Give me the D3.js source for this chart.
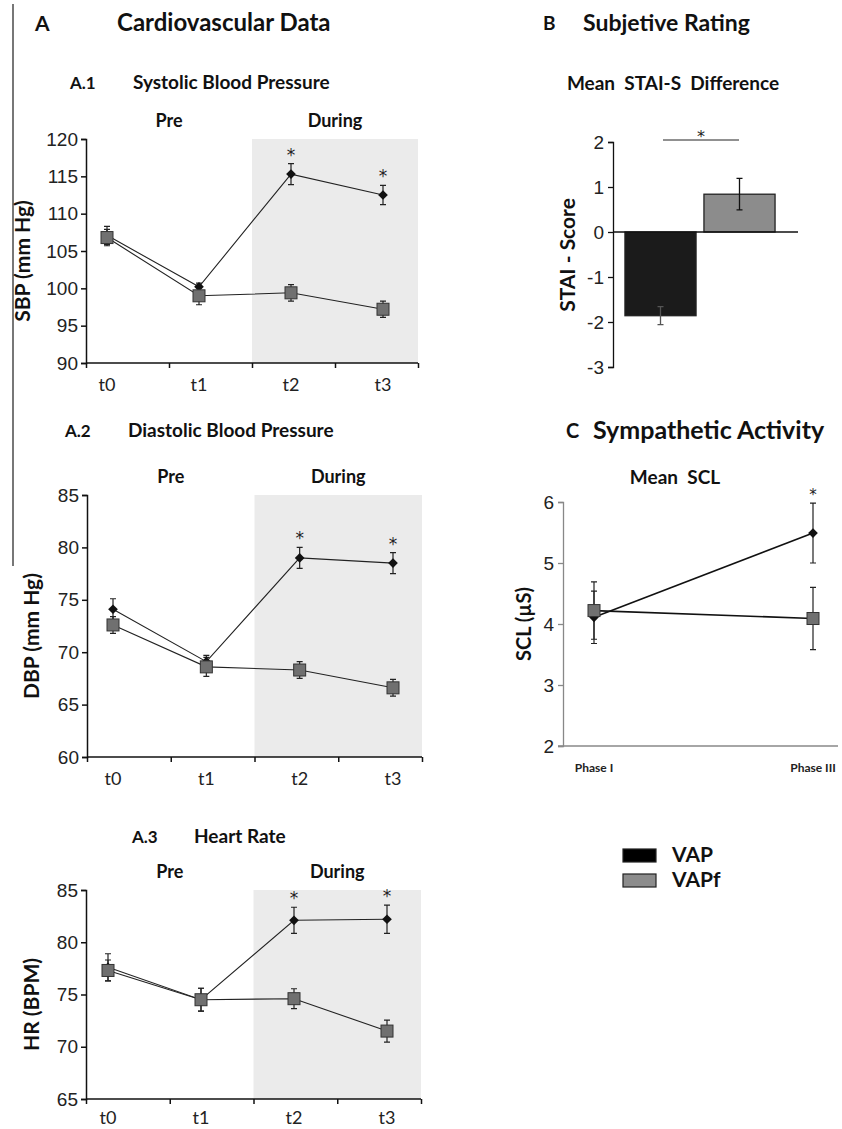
<!DOCTYPE html>
<html>
<head>
<meta charset="utf-8">
<script src="https://cdn.jsdelivr.net/npm/d3@7"></script>
<style>
  body { margin: 0; background: #fff; }
  svg { font-family: Lato, "Open Sans", sans-serif; }
  text { white-space: pre; }
</style>
</head>
<body>
<div id="chart"></div>
<script>
// time points for the cardiovascular panels
const times = ["t0", "t1", "t2", "t3"];

// A.1 systolic blood pressure (mm Hg)
const sbpVAP = [107.1, 100.2, 115.3, 112.5];
const sbpVAPErr = [1.2, 0.5, 1.4, 1.3];
const sbpVAPf = [106.8, 99.0, 99.4, 97.2];
const sbpVAPfErr = [1.1, 1.2, 1.1, 1.1];
const sbpTicks = [90, 95, 100, 105, 110, 115, 120];

// A.2 diastolic blood pressure (mm Hg)
const dbpVAP = [74.1, 69.1, 79.0, 78.5];
const dbpVAPErr = [1.0, 0.6, 1.0, 1.0];
const dbpVAPf = [72.6, 68.6, 68.3, 66.6];
const dbpVAPfErr = [0.8, 0.9, 0.8, 0.8];
const dbpTicks = [60, 65, 70, 75, 80, 85];

// A.3 heart rate (BPM)
const hrVAP = [77.6, 74.5, 82.1, 82.2];
const hrVAPErr = [1.3, 1.1, 1.25, 1.35];
const hrVAPf = [77.3, 74.5, 74.6, 71.5];
const hrVAPfErr = [1.0, 1.1, 0.95, 1.05];
const hrTicks = [65, 70, 75, 80, 85];

// significance marks (true = starred)
const starred = [false, false, true, true];

// B mean STAI-S difference
const groups = ["VAP", "VAPf"];
const staiMean = [-1.86, 0.84];
const staiErr = [0.2, 0.35];
const staiTicks = [-3, -2, -1, 0, 1, 2];

// C mean SCL
const phases = ["Phase I", "Phase III"];
const sclVAP = [4.11, 5.49];
const sclVAPErr = [0.43, 0.49];
const sclVAPf = [4.22, 4.09];
const sclVAPfErr = [0.47, 0.51];
const sclStarred = [false, true];
const sclTicks = [2, 3, 4, 5, 6];

const colVAP = "#111";
const colVAPf = "#707070";
const plain = d => String(d).replace("\u2212", "-");

const svg = d3.select("#chart").append("svg")
    .attr("width", 842)
    .attr("height", 1129);

// left separator line
svg.append("line")
    .attr("x1", 13).attr("x2", 13)
    .attr("y1", 4).attr("y2", 566)
    .attr("stroke", "#777").attr("stroke-width", 2);

function label(x, y, txt, size, opts = {}) {
    return svg.append("text")
        .attr("x", x).attr("y", y)
        .attr("font-size", size + "px")
        .attr("font-weight", opts.weight || "bold")
        .attr("text-anchor", opts.anchor || "start")
        .attr("fill", "#111")
        .text(txt);
}

function star(g, x, y, size) {
    g.append("text")
        .attr("x", x).attr("y", y)
        .attr("text-anchor", "middle").attr("font-size", size + "px")
        .attr("font-family", "DejaVu Sans").attr("fill", "#222")
        .text("*");
}

// headings
label(35, 31, "A", 21);
label(117, 31, "Cardiovascular Data", 24);
label(543, 30, "B", 19);
label(583, 31, "Subjetive Rating", 23);
label(673, 90, "Mean  STAI-S  Difference", 19, { anchor: "middle" });
label(566, 438, "C", 20);
label(593, 439, "Sympathetic Activity", 25);
label(675, 484, "Mean  SCL", 19, { anchor: "middle" });

// line panel with shaded "During" region
function linePanel(cfg) {
    const y = d3.scaleLinear().domain(d3.extent(cfg.ticks)).range([cfg.bottom, cfg.top]);
    const x = d3.scalePoint().domain(times).range([cfg.px0, cfg.px1]);
    const band = d3.scaleLinear().domain([0, times.length]).range([cfg.left, cfg.right]);

    label(cfg.titleX, cfg.titleY, cfg.tag, 17);
    label(cfg.nameX, cfg.titleY, cfg.name, 19);
    label(band(1), cfg.top - 12, "Pre", 18, { anchor: "middle" });
    label(band(3), cfg.top - 12, "During", 18, { anchor: "middle" });

    const g = svg.append("g");
    g.append("rect")
        .attr("x", band(2)).attr("y", cfg.top)
        .attr("width", band(4) - band(2)).attr("height", cfg.bottom - cfg.top)
        .attr("fill", "#ebebeb");

    const yAxis = g.append("g")
        .attr("transform", `translate(${cfg.left},0)`)
        .call(d3.axisLeft(y).tickValues(cfg.ticks).tickSize(5).tickPadding(3).tickFormat(plain));
    yAxis.selectAll("text").attr("font-size", "19px").attr("fill", "#222");
    yAxis.selectAll("line, path").attr("stroke", "#111").attr("stroke-width", 1.5);

    // x axis: ticks on band boundaries, labels at points
    const xAxis = g.append("g")
        .attr("transform", `translate(0,${cfg.bottom})`)
        .call(d3.axisBottom(band).tickValues([0, 1, 2, 3, 4]).tickSize(5).tickFormat(""));
    xAxis.selectAll("line, path").attr("stroke", "#111").attr("stroke-width", 1.5);
    xAxis.select(".domain").attr("d", `M${cfg.left},0H${cfg.right}`);
    g.selectAll(".tlab").data(times).enter().append("text")
        .attr("x", d => x(d)).attr("y", cfg.bottom + cfg.labGap)
        .attr("text-anchor", "middle").attr("font-size", "18px").attr("fill", "#222")
        .text(d => d);

    g.append("text")
        .attr("transform", `translate(${cfg.ylabX},${(cfg.top + cfg.bottom) / 2 + 10}) rotate(-90)`)
        .attr("text-anchor", "middle").attr("font-size", "21px").attr("font-weight", "bold")
        .attr("fill", "#111").text(cfg.ylab);

    const series = [
        { vals: cfg.vap, errs: cfg.vapErr, kind: "diamond" },
        { vals: cfg.vapf, errs: cfg.vapfErr, kind: "square" }
    ];
    const line = d3.line().x((d, i) => x(times[i])).y(d => y(d));

    series.forEach(s => {
        g.append("path").attr("d", line(s.vals))
            .attr("fill", "none").attr("stroke", "#222").attr("stroke-width", 1.1);
    });
    series.forEach(s => {
        s.vals.forEach((v, i) => {
            const cx = x(times[i]);
            const hi = y(v + s.errs[i]), lo = y(v - s.errs[i]);
            g.append("path")
                .attr("d", `M${cx},${hi}V${lo}M${cx - 3},${hi}H${cx + 3}M${cx - 3},${lo}H${cx + 3}`)
                .attr("stroke", "#222").attr("stroke-width", 1.2).attr("fill", "none");
        });
    });
    series.forEach(s => {
        s.vals.forEach((v, i) => {
            const cx = x(times[i]), cy = y(v);
            if (s.kind === "diamond") {
                g.append("path")
                    .attr("d", d3.symbol(d3.symbolDiamond2, 60)())
                    .attr("transform", `translate(${cx},${cy})`)
                    .attr("fill", colVAP);
            } else {
                g.append("rect")
                    .attr("x", cx - 6).attr("y", cy - 6).attr("width", 12).attr("height", 12)
                    .attr("fill", colVAPf).attr("stroke", "#333").attr("stroke-width", 1);
            }
        });
    });
    starred.forEach((st, i) => {
        if (st) star(g, x(times[i]), y(cfg.vap[i] + cfg.vapErr[i]) - 3, 17);
    });
}

linePanel({
    tag: "A.1", name: "Systolic Blood Pressure", titleX: 70, nameX: 133, titleY: 89,
    top: 139, bottom: 363, left: 86, right: 418, px0: 107, px1: 383, ylabX: 30, labGap: 28,
    ticks: sbpTicks, ylab: "SBP (mm Hg)",
    vap: sbpVAP, vapErr: sbpVAPErr, vapf: sbpVAPf, vapfErr: sbpVAPfErr
});
linePanel({
    tag: "A.2", name: "Diastolic Blood Pressure", titleX: 65, nameX: 128, titleY: 437,
    top: 495, bottom: 757, left: 87, right: 422, px0: 113, px1: 393, ylabX: 39, labGap: 28,
    ticks: dbpTicks, ylab: "DBP (mm Hg)",
    vap: dbpVAP, vapErr: dbpVAPErr, vapf: dbpVAPf, vapfErr: dbpVAPfErr
});
linePanel({
    tag: "A.3", name: "Heart Rate", titleX: 132, nameX: 194, titleY: 843,
    top: 890, bottom: 1099, left: 86, right: 421, px0: 108, px1: 387, ylabX: 39, labGap: 25,
    ticks: hrTicks, ylab: "HR (BPM)",
    vap: hrVAP, vapErr: hrVAPErr, vapf: hrVAPf, vapfErr: hrVAPfErr
});

// B: bar chart
(function () {
    const y = d3.scaleLinear().domain([-3, 2]).range([367, 142]);
    const x = d3.scaleBand().domain(groups).range([621, 779]).paddingInner(0.1).paddingOuter(0.05);
    const g = svg.append("g");
    const ax = g.append("g").attr("transform", "translate(613,0)")
        .call(d3.axisLeft(y).tickValues(staiTicks).tickSize(5).tickPadding(4).tickFormat(plain));
    ax.selectAll("text").attr("font-size", "19px").attr("fill", "#222");
    ax.selectAll("line, path").attr("stroke", "#111").attr("stroke-width", 1.3);

    g.selectAll(".bar").data(groups).enter().append("rect")
        .attr("x", d => x(d))
        .attr("width", x.bandwidth())
        .attr("y", (d, i) => y(Math.max(0, staiMean[i])))
        .attr("height", (d, i) => Math.abs(y(staiMean[i]) - y(0)))
        .attr("fill", (d, i) => i === 0 ? "#1b1b1b" : "#8c8c8c")
        .attr("stroke", "#222").attr("stroke-width", 1.3);
    g.append("line").attr("x1", 613).attr("x2", 798)
        .attr("y1", y(0)).attr("y2", y(0)).attr("stroke", "#111").attr("stroke-width", 1.3);
    groups.forEach((d, i) => {
        const cx = x(d) + x.bandwidth() / 2;
        const hi = y(staiMean[i] + staiErr[i]), lo = y(staiMean[i] - staiErr[i]);
        g.append("path")
            .attr("d", `M${cx},${hi}V${lo}M${cx - 3},${hi}H${cx + 3}M${cx - 3},${lo}H${cx + 3}`)
            .attr("stroke", i === 0 ? "#555" : "#111").attr("stroke-width", 1.3);
    });
    g.append("line").attr("x1", 663).attr("x2", 739).attr("y1", 140).attr("y2", 140)
        .attr("stroke", "#222").attr("stroke-width", 1);
    star(g, 701, 142, 16);
    g.append("text")
        .attr("transform", "translate(575,255) rotate(-90)")
        .attr("text-anchor", "middle").attr("font-size", "21px").attr("font-weight", "bold")
        .attr("fill", "#111").text("STAI - Score");
})();

// C: SCL line chart
(function () {
    const y = d3.scaleLinear().domain([2, 6]).range([746, 502]);
    const x = d3.scalePoint().domain(phases).range([594, 813]);
    const g = svg.append("g");
    const ax = g.append("g").attr("transform", "translate(563,0)")
        .call(d3.axisLeft(y).tickValues(sclTicks).tickSize(5).tickPadding(4).tickFormat(plain));
    ax.selectAll("text").attr("font-size", "19px").attr("fill", "#222");
    ax.selectAll("line, path").attr("stroke", "#888").attr("stroke-width", 1.3);
    g.append("line").attr("x1", 558).attr("x2", 838).attr("y1", 746).attr("y2", 746)
        .attr("stroke", "#888").attr("stroke-width", 1.3);
    g.selectAll(".plab").data(phases).enter().append("text")
        .attr("x", d => x(d)).attr("y", 772).attr("text-anchor", "middle")
        .attr("font-size", "12px").attr("font-weight", "bold").attr("fill", "#222")
        .text(d => d);

    const series = [
        { vals: sclVAP, errs: sclVAPErr, kind: "diamond" },
        { vals: sclVAPf, errs: sclVAPfErr, kind: "square" }
    ];
    const line = d3.line().x((d, i) => x(phases[i])).y(d => y(d));
    series.forEach(s => {
        g.append("path").attr("d", line(s.vals))
            .attr("fill", "none").attr("stroke", "#111").attr("stroke-width", 1.6);
    });
    series.forEach(s => s.vals.forEach((v, i) => {
        const cx = x(phases[i]);
        const hi = y(v + s.errs[i]), lo = y(v - s.errs[i]);
        g.append("path")
            .attr("d", `M${cx},${hi}V${lo}M${cx - 3},${hi}H${cx + 3}M${cx - 3},${lo}H${cx + 3}`)
            .attr("stroke", "#222").attr("stroke-width", 1.2);
    }));
    series.forEach(s => s.vals.forEach((v, i) => {
        const cx = x(phases[i]), cy = y(v);
        if (s.kind === "diamond") {
            g.append("path").attr("d", d3.symbol(d3.symbolDiamond2, 60)())
                .attr("transform", `translate(${cx},${cy})`).attr("fill", colVAP);
        } else {
            g.append("rect").attr("x", cx - 6).attr("y", cy - 6).attr("width", 12).attr("height", 12)
                .attr("fill", colVAPf).attr("stroke", "#333").attr("stroke-width", 1);
        }
    }));
    sclStarred.forEach((st, i) => {
        if (st) star(g, x(phases[i]), y(sclVAP[i] + sclVAPErr[i]) - 3, 15);
    });
    g.append("text")
        .attr("transform", "translate(531,624) rotate(-90)")
        .attr("text-anchor", "middle").attr("font-size", "20px").attr("font-weight", "bold")
        .attr("fill", "#111").text("SCL (µS)");
})();

// legend
const legend = svg.append("g").attr("transform", "translate(623,849)");
groups.forEach((d, i) => {
    legend.append("rect").attr("x", 0).attr("y", i * 25).attr("width", 33).attr("height", 13)
        .attr("fill", i === 0 ? "#000" : "#8c8c8c").attr("stroke", "#222").attr("stroke-width", 1.2);
    legend.append("text").attr("x", 49).attr("y", i * 25 + 13)
        .attr("font-size", "21px").attr("font-weight", "bold").attr("fill", "#111").text(d);
});
</script>
</body>
</html>
